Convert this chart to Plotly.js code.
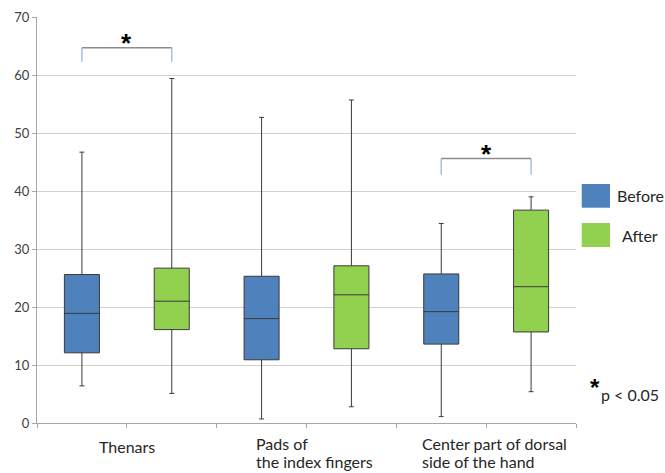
<!DOCTYPE html>
<html>
<head>
<meta charset="utf-8">
<script src="https://cdn.plot.ly/plotly-3.0.1.min.js"></script>
<style>html,body{margin:0;padding:0;background:#fff;}#chart{width:665px;height:473px;}</style>
</head>
<body>
<div id="chart"></div>
<script>
// Data
const categories = ["Thenars", "Pads of the index fingers", "Center part of dorsal side of the hand"];
const groups = ["Before", "After"];
// per category: [Before, After]
const lowerWhisker = [[6.4, 5.1], [0.7, 2.8], [1.1, 5.4]];
const q1Values     = [[12.1, 16.1], [10.9, 12.8], [13.6, 15.7]];
const medianValues = [[18.9, 21.0], [18.0, 22.1], [19.2, 23.5]];
const q3Values     = [[25.6, 26.7], [25.3, 27.1], [25.7, 36.7]];
const upperWhisker = [[46.7, 59.4], [52.7, 55.7], [34.4, 39.0]];
// significance brackets: category index, bracket height, leg bottom
const sigCategory = [0, 2];
const sigTop = [64.7, 45.6];
const sigLeg = [62.3, 42.8];
const yTicks = [0, 10, 20, 30, 40, 50, 60, 70];

const colors = {Before: "#4f81bd", After: "#92d050"};
const FONT = "Lato, 'DejaVu Sans', sans-serif";
const STAR_FONT = "'Liberation Sans', Arial, sans-serif";

const traces = groups.map((g, gi) => {
  const x = categories.map((c, ci) => ci * 2 + gi);
  return {
    type: "box",
    name: g,
    x: x,
    lowerfence: categories.map((c, ci) => lowerWhisker[ci][gi]),
    q1: categories.map((c, ci) => q1Values[ci][gi]),
    median: categories.map((c, ci) => medianValues[ci][gi]),
    q3: categories.map((c, ci) => q3Values[ci][gi]),
    upperfence: categories.map((c, ci) => upperWhisker[ci][gi]),
    width: 0.39,
    whiskerwidth: 0.14,
    fillcolor: colors[g],
    line: {color: "#3a3a3a", width: 1},
    boxpoints: false,
    hoverinfo: "skip",
    showlegend: false
  };
});

const shapes = [];
const annotations = [];
sigCategory.forEach((ci, i) => {
  const x0 = ci * 2, x1 = ci * 2 + 1;
  shapes.push({type: "line", xref: "x", yref: "y", x0: x0, x1: x0, y0: sigLeg[i], y1: sigTop[i], line: {color: "#9dc3e6", width: 1.5}});
  shapes.push({type: "line", xref: "x", yref: "y", x0: x1, x1: x1, y0: sigLeg[i], y1: sigTop[i], line: {color: "#9dc3e6", width: 1.5}});
  shapes.push({type: "line", xref: "x", yref: "y", x0: x0, x1: x1, y0: sigTop[i], y1: sigTop[i], line: {color: "#8c8c8c", width: 1.5}});
  annotations.push({xref: "x", yref: "y", x: (x0 + x1) / 2, y: sigTop[i], yanchor: "middle", yshift: 5, text: "<b>*</b>", showarrow: false, font: {family: STAR_FONT, size: 26, color: "#000"}});
});

// legend (drawn manually)
const legendY = [[0.5303, 0.5887], [0.4335, 0.4926]];
groups.forEach((g, gi) => {
  shapes.push({type: "rect", xref: "paper", yref: "paper", x0: 1.0106, x1: 1.0631, y0: legendY[gi][0], y1: legendY[gi][1], fillcolor: colors[g], line: {width: 0}});
  annotations.push({xref: "paper", yref: "paper", x: 1.1195, y: (legendY[gi][0] + legendY[gi][1]) / 2, xanchor: "center", yanchor: "middle", text: g, showarrow: false, font: {family: FONT, size: 16, color: "#262626"}});
});

// p-value note
annotations.push({xref: "paper", yref: "paper", x: 1.036, y: 0.088, xanchor: "center", yanchor: "middle", text: "<b>*</b>", showarrow: false, font: {family: STAR_FONT, size: 24, color: "#000"}});
annotations.push({xref: "paper", yref: "paper", x: 1.1002, y: 0.069, xanchor: "center", yanchor: "middle", text: "p < 0.05", showarrow: false, font: {family: FONT, size: 16, color: "#262626"}});

// category labels
const catLines = [["Thenars"], ["Pads of", "the index fingers"], ["Center part of dorsal", "side of the hand"]];
const catX = [0.1664, 0.4026, 0.7106];
const catAnchor = ["center", "left", "left"];
const lineY = [[-0.0567], [-0.0493, -0.096], [-0.0493, -0.096]];
catLines.forEach((lines, ci) => {
  lines.forEach((t, li) => {
    annotations.push({xref: "paper", yref: "paper", x: catX[ci], y: lineY[ci][li], xanchor: catAnchor[ci], yanchor: "middle", text: t, showarrow: false, font: {family: FONT, size: 16, color: "#262626"}});
  });
});

const layout = {
  width: 665, height: 473,
  margin: {l: 37, r: 89, t: 17, b: 50},
  paper_bgcolor: "#fff", plot_bgcolor: "#fff",
  showlegend: false,
  xaxis: {
    range: [-0.5, 5.5],
    tickvals: [-0.5, 0.5, 1.5, 2.5, 3.5, 4.5, 5.5],
    ticktext: ["", "", "", "", "", "", ""],
    ticks: "outside", ticklen: 4, tickcolor: "#a6a6a6",
    showgrid: false, zeroline: false,
    showline: true, linecolor: "#a6a6a6", linewidth: 1,
    fixedrange: true
  },
  yaxis: {
    range: [0, 70],
    tickvals: yTicks,
    ticks: "outside", ticklen: 4, tickcolor: "#a6a6a6",
    showgrid: true, gridcolor: "#d0d0d0", gridwidth: 1,
    zeroline: false,
    showline: true, linecolor: "#a6a6a6", linewidth: 1,
    tickfont: {family: FONT, size: 13, color: "#404040"},
    fixedrange: true
  },
  shapes: shapes,
  annotations: annotations
};

Plotly.newPlot("chart", traces, layout, {displayModeBar: false, staticPlot: true});
</script>
</body>
</html>
